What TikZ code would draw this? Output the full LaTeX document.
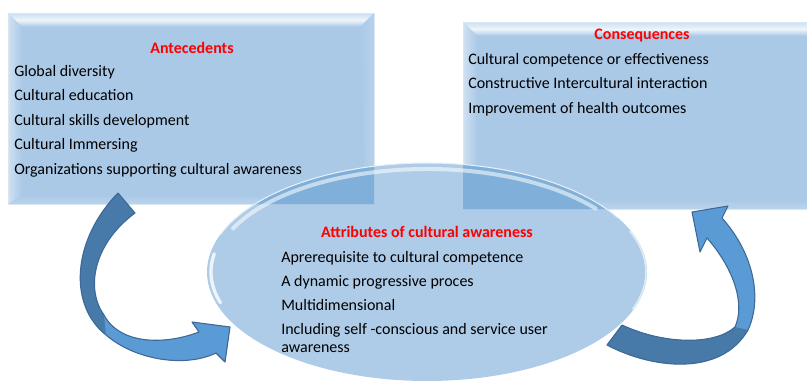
\documentclass[tikz,border=0pt]{standalone}
\usepackage{fontspec}
\setmainfont{Carlito}
\usetikzlibrary{calc}
\definecolor{boxblue}{RGB}{170,201,231}
\definecolor{boxdark}{RGB}{128,176,218}
\definecolor{arrowdark}{RGB}{71,121,169}
\definecolor{arrowlight}{RGB}{91,155,213}
\definecolor{arrowline}{RGB}{62,104,150}
% bevelled box: x0, y0, x1, y1 (pixel coordinates, y downwards)
\newcommand{\bevelbox}[4]{%
  \fill[boxblue] (#1,#2) rectangle (#3,#4);
  \shade[top color=boxblue!60!white, bottom color=white!80!boxblue]
    (#1,#2) -- (#3,#2) -- ({#3-7},{#2+7}) -- ({#1+7},{#2+7}) -- cycle;
  \shade[top color=white!80!boxblue, bottom color=boxblue]
    ({#1+7},{#2+7}) -- ({#3-7},{#2+7}) -- ({#3-14},{#2+14}) -- ({#1+14},{#2+14}) -- cycle;
  \shade[left color=white!45!boxblue, right color=boxblue]
    (#1,#2) -- ({#1+14},{#2+14}) -- ({#1+14},{#4-9}) -- (#1,#4) -- cycle;
  \shade[left color=boxblue, right color=boxblue!85!white]
    (#3,#2) -- ({#3-14},{#2+14}) -- ({#3-9},{#4-9}) -- (#3,#4) -- cycle;
  \shade[top color=boxblue, bottom color=boxblue!80!white]
    (#1,#4) -- ({#1+14},{#4-9}) -- ({#3-9},{#4-9}) -- (#3,#4) -- cycle;
  \draw[white!55!boxblue, line width=0.6pt] (#1,#2) rectangle (#3,#4);
}
\begin{document}
\begin{tikzpicture}[x=0.75pt, y=-0.75pt,
    item/.style={anchor=base west, inner sep=0pt, font=\fontsize{12}{14}\selectfont},
    head/.style={anchor=base, inner sep=0pt, text=red, font=\fontsize{12}{14}\selectfont\bfseries},
    bandarrow/.style={draw=arrowline, line width=0.8pt, line join=round}]
  \useasboundingbox (0,0) rectangle (807,382);
  % two boxes
  \begin{scope}
    \clip (0,0) rectangle (807,382);
    \bevelbox{8}{13}{374}{204}
    \bevelbox{463}{22}{830}{209}
  \end{scope}
  % central ellipse
  \coordinate (ctr) at (427,272);
  \fill[boxblue, opacity=0.95] (ctr) ellipse[x radius=220, y radius=109];
  \begin{scope}
    \clip (8,13) rectangle (374,204) (463,22) rectangle (807,209);
    \fill[boxdark] (ctr) ellipse[x radius=220, y radius=109];
  \end{scope}
  \draw[white, opacity=0.55, line width=3pt, line cap=round]
    ($(ctr)+(205:214 and 103)$) arc[start angle=205, end angle=322, x radius=214, y radius=103];
  \draw[white!70!boxblue, line width=0.8pt]
    ($(ctr)+(200:220 and 109)$) arc[start angle=200, end angle=330, x radius=220, y radius=109];
  \draw[white, opacity=0.8, line width=2.5pt, line cap=round]
    ($(ctr)+(163:216 and 105)$) arc[start angle=163, end angle=190, x radius=216, y radius=105];
  \draw[white, opacity=0.6, line width=1.2pt, line cap=round]
    ($(ctr)+(-22:219 and 108)$) arc[start angle=-22, end angle=20, x radius=219, y radius=108];
  % left arrow
  \fill[arrowdark] (118,193) .. controls (72,240) and (68,305) .. (106,335)
    .. controls (135,360) and (185,368) .. (216,353) -- (225,362) -- (230,327)
    -- (192,322) -- (199,332) .. controls (165,345) and (120,345) .. (104,315)
    .. controls (86,290) and (92,245) .. (135,213) -- cycle;
  \fill[arrowlight] (106,335) .. controls (135,360) and (185,368) .. (216,353)
    -- (225,362) -- (230,327) -- (192,322) -- (199,332)
    .. controls (165,345) and (120,345) .. (104,315) -- cycle;
  \draw[bandarrow] (118,193) .. controls (72,240) and (68,305) .. (106,335)
    .. controls (135,360) and (185,368) .. (216,353) -- (225,362) -- (230,327)
    -- (192,322) -- (199,332) .. controls (165,345) and (120,345) .. (104,315)
    .. controls (86,290) and (92,245) .. (135,213) -- cycle;
  % right arrow
  \fill[arrowlight] (607,345) .. controls (650,368) and (720,378) .. (748,330)
    .. controls (762,300) and (755,255) .. (722,218) -- (728,206) -- (692,212)
    -- (700,252) -- (707,238) .. controls (735,270) and (745,305) .. (735,327)
    .. controls (715,345) and (665,345) .. (622,325) -- cycle;
  \fill[arrowdark] (607,345) .. controls (650,368) and (720,378) .. (748,330)
    -- (735,327) .. controls (715,345) and (665,345) .. (622,325) -- cycle;
  \draw[bandarrow] (607,345) .. controls (650,368) and (720,378) .. (748,330)
    .. controls (762,300) and (755,255) .. (722,218) -- (728,206) -- (692,212)
    -- (700,252) -- (707,238) .. controls (735,270) and (745,305) .. (735,327)
    .. controls (715,345) and (665,345) .. (622,325) -- cycle;
  % texts
  \node[head] (antehead) at (192,53) {Antecedents};
  \foreach \txt [count=\i] in {Global diversity, Cultural education, Cultural skills development,
      Cultural Immersing, Organizations supporting cultural awareness}{
    \node[item] (ante\i) at (14, {76+24.6*(\i-1)}) {\txt};
  }
  \node[head] (conshead) at (642,39) {Consequences};
  \foreach \txt [count=\i] in {Cultural competence or effectiveness,
      Constructive Intercultural interaction, Improvement of health outcomes}{
    \node[item] (cons\i) at (468, {64+24.5*(\i-1)}) {\txt};
  }
  \node[head] (attrhead) at (427,237) {Attributes of cultural awareness};
  \foreach \txt [count=\i] in {Aprerequisite to cultural competence, A dynamic progressive proces,
      Multidimensional, Including self -conscious and service user}{
    \node[item] (attr\i) at (281, {262+24*(\i-1)}) {\txt};
  }
  \node[item] (attr4b) at (281,352) {awareness};
\end{tikzpicture}
\end{document}
